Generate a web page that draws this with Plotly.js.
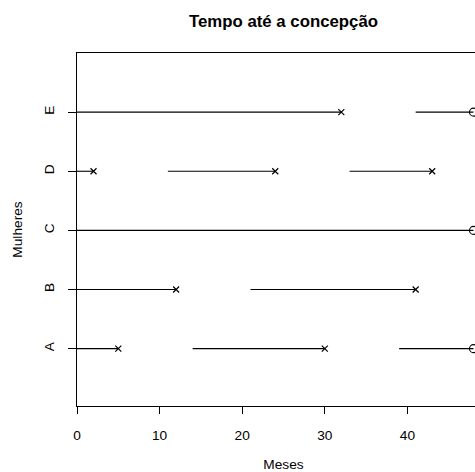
<!DOCTYPE html>
<html><head><meta charset="utf-8">
<script src="https://cdn.plot.ly/plotly-3.0.1.min.js"></script>
<style>html,body{margin:0;padding:0;overflow:hidden;background:#fff}#wrap{width:475px;height:472px;overflow:hidden}#chart{width:560px;height:472px}</style>
</head><body><div id="wrap"><div id="chart"></div></div>
<script>
// Women (y categories)
var women = ['A', 'B', 'C', 'D', 'E'];
// Exposure intervals (months)
var segWoman = ['A', 'A', 'A', 'B', 'B', 'C', 'D', 'D', 'D', 'E', 'E'];
var segStart = [0, 14, 39, 0, 21, 0, 0, 11, 33, 0, 41];
var segEnd   = [5, 30, 48, 12, 41, 48, 2, 24, 43, 32, 48];
// 1 = conception (x), 0 = censored (o)
var segEvent = [1, 1, 0, 1, 1, 0, 1, 1, 1, 1, 0];
var xTicks = [0, 10, 20, 30, 40];

function yOf(w) { return women.indexOf(w) + 1; }

var lx = [], ly = [], xx = [], xy = [], ox = [], oy = [];
for (var i = 0; i < segWoman.length; i++) {
  var y = yOf(segWoman[i]);
  lx.push(segStart[i], segEnd[i], null);
  ly.push(y, y, null);
  if (segEvent[i] === 1) { xx.push(segEnd[i]); xy.push(y); }
  else { ox.push(segEnd[i]); oy.push(y); }
}

var font = 'Liberation Sans, Arial, Helvetica, sans-serif';
var traces = [
  {x: lx, y: ly, mode: 'lines', type: 'scatter', line: {color: '#000', width: 1.1}, hoverinfo: 'skip', cliponaxis: false},
  {x: xx, y: xy, mode: 'markers', type: 'scatter', cliponaxis: false,
   marker: {symbol: 'x-thin-open', size: 6, color: '#000', line: {color: '#000', width: 1.2}}},
  {x: ox, y: oy, mode: 'markers', type: 'scatter', cliponaxis: false,
   marker: {symbol: 'circle-open', size: 8, color: '#000', line: {color: '#000', width: 1.1}}}
];

var layout = {
  width: 560, height: 472,
  margin: {l: 77, r: 70, t: 53, b: 66, pad: 0},
  paper_bgcolor: '#fff', plot_bgcolor: '#fff',
  showlegend: false,
  font: {family: font, size: 13.7, color: '#000'},
  title: {text: '<b>Tempo até a concepção</b>', x: 0.5, xref: 'paper', y: 1 - 21 / 472, yref: 'container', yanchor: 'middle',
          font: {family: font, size: 16.8, color: '#000'}},
  xaxis: {range: [0, 50], tickvals: xTicks, ticks: 'outside', ticklen: 7, tickwidth: 1, tickcolor: '#000',
          showline: true, linecolor: '#000', linewidth: 1, mirror: true, showgrid: false, zeroline: false,
          ticklabelstandoff: 10,
          title: {text: 'Meses', standoff: 20, font: {family: font, size: 13.7, color: '#000'}}},
  yaxis: {range: [0.03, 6], tickvals: [1, 2, 3, 4, 5], ticktext: women, tickangle: -90,
          ticks: 'outside', ticklen: 8, tickwidth: 1, tickcolor: '#000',
          showline: true, linecolor: '#000', linewidth: 1, mirror: true, showgrid: false, zeroline: false,
          ticklabelstandoff: 9,
          title: {text: 'Mulheres', standoff: 15, font: {family: font, size: 13.7, color: '#000'}}}
};

Plotly.newPlot('chart', traces, layout, {displayModeBar: false, staticPlot: true});
</script></body></html>
